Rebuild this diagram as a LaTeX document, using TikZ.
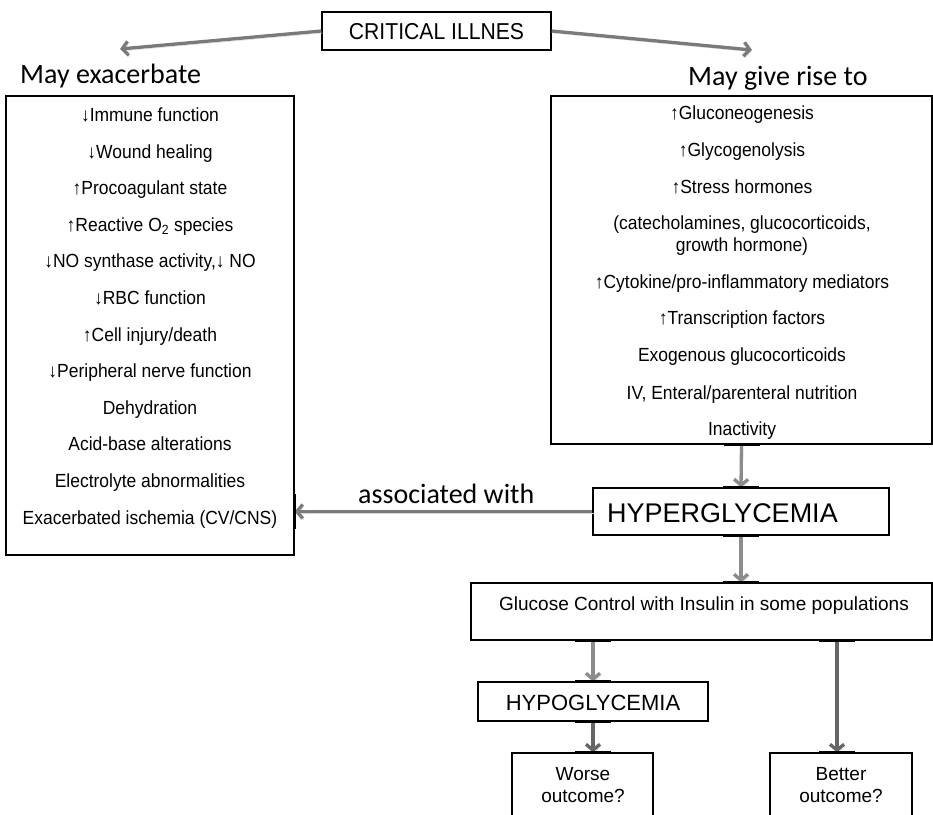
\documentclass[tikz,border=0pt]{standalone}
\usepackage{fontspec}
\setmainfont{Liberation Sans}
\newfontfamily\narrowsans{Liberation Sans}[FakeStretch=0.92]
\newfontfamily\calibri{Carlito}
\usetikzlibrary{arrows.meta}
\definecolor{arrlight}{HTML}{8C8C8C}
\definecolor{arrmid}{HTML}{7A7A7A}
\definecolor{arrdark}{HTML}{666666}
\tikzset{
  boxnode/.style={draw=black, line width=1.2pt, inner sep=0pt, fill=none},
  txt/.style={anchor=base, inner sep=0pt, font=\narrowsans\fontsize{19}{22}\selectfont},
  headtxt/.style={anchor=base west, inner sep=0pt, font=\calibri\fontsize{28}{32}\selectfont},
  arr/.style={line width=3.3pt, -{Straight Barb[length=6pt,width=14pt]},
    preaction={draw=black!17, transform canvas={shift={(1.5pt,-2pt)}}}},
  tickmark/.style={line width=3pt, black},
}
\begin{document}
\begin{tikzpicture}[x=1pt,y=-1pt]
\clip (0,0) rectangle (933,814);
\fill[white] (0,0) rectangle (933,814);

% boxes
\node[boxnode, minimum width=229pt, minimum height=38pt] (crit) at (436.5,31) {};
\node[anchor=base, inner sep=0pt, font=\narrowsans\fontsize{23}{26}\selectfont] (critt) at (436.5,39.5) {CRITICAL ILLNES};
\node[boxnode, minimum width=288pt, minimum height=459pt] (lbox) at (150,325.5) {};
\node[boxnode, minimum width=381pt, minimum height=348pt] (rbox) at (741.5,270) {};
\node[boxnode, minimum width=296pt, minimum height=47pt] (hyper) at (741,511.5) {};
\node[boxnode, minimum width=461pt, minimum height=57pt] (gluc) at (701.5,611.5) {};
\node[boxnode, minimum width=230pt, minimum height=39pt] (hypo) at (593,701.5) {};
\node[boxnode, minimum width=141pt, minimum height=77pt] (worse) at (582.5,791.5) {};
\node[boxnode, minimum width=142pt, minimum height=77pt] (better) at (841,791.5) {};

% headings
\node[headtxt] (hl) at (20,83) {May exacerbate};
\node[headtxt] (hr) at (688,85) {May give rise to};
\node[headtxt] (assoc) at (358,503) {associated with};

% left list
\foreach [count=\i] \t in {%
  {↓Immune function},
  {↓Wound healing},
  {↑Procoagulant state},
  {↑Reactive O\textsubscript{2} species},
  {↓NO synthase activity,↓ NO},
  {↓RBC function},
  {↑Cell injury/death},
  {↓Peripheral nerve function},
  {Dehydration},
  {Acid-base alterations},
  {Electrolyte abnormalities},
  {Exacerbated ischemia (CV/CNS)}}
  \node[txt] (l\i) at (150,{121.5+36.6*(\i-1)}) {\t};

% right list
\node[txt] (r1) at (742,119.5) {↑Gluconeogenesis};
\node[txt] (r2) at (742,156.5) {↑Glycogenolysis};
\node[txt] (r3) at (742,193.5) {↑Stress hormones};
\node[txt] (r4) at (742,229.5) {(catecholamines, glucocorticoids,};
\node[txt] (r5) at (742,251.5) {growth hormone)};
\node[txt] (r6) at (742,288.5) {↑Cytokine/pro-inflammatory mediators};
\node[txt] (r7) at (742,324.5) {↑Transcription factors};
\node[txt] (r8) at (742,361.5) {Exogenous glucocorticoids};
\node[txt] (r9) at (742,399) {IV, Enteral/parenteral nutrition};
\node[txt] (r10) at (742,435.5) {Inactivity};

% other texts
\node[anchor=base west, inner sep=0pt, font=\fontsize{27}{30}\selectfont] (hypert) at (607,522) {HYPERGLYCEMIA};
\node[anchor=base, inner sep=0pt, font=\fontsize{19}{22}\selectfont] (glucot) at (704,610) {Glucose Control with Insulin in some populations};
\node[anchor=base, inner sep=0pt, font=\fontsize{22}{26}\selectfont] (hypot) at (593,710) {HYPOGLYCEMIA};
\node[align=center, inner sep=0pt, font=\fontsize{19}{22}\selectfont] (worset) at (583,785) {Worse\\outcome?};
\node[align=center, inner sep=0pt, font=\fontsize{19}{22}\selectfont] (bettert) at (841,785) {Better\\outcome?};

% connectors
\coordinate (tipl) at (120,49);
\coordinate (tipr) at (752,50);
\draw[arr, draw=arrmid] (crit.west) -- (tipl);
\draw[arr, draw=arrmid] (crit.east) -- (tipr);
\draw[arr, draw=arrlight] (rbox.south) -- (hyper.north);
\draw[arr, draw=arrmid] (hyper.west) -- (hyper.west -| lbox.east);
\draw[arr, draw=arrlight] (hyper.south) -- (hyper.south |- gluc.north);
\draw[arr, draw=arrlight] (hypo.north |- gluc.south) -- (hypo.north);
\draw[arr, draw=arrdark] (hypo.south) -- (hypo.south |- worse.north);
\draw[arr, draw=arrdark] ([xshift=-4pt]better.north |- gluc.south) -- ([xshift=-4pt]better.north);

% connection ticks
\draw[tickmark] ([xshift=-18pt]rbox.south) -- ([xshift=18pt]rbox.south);
\draw[tickmark] ([xshift=-18pt]hyper.north) -- ([xshift=18pt]hyper.north);
\draw[tickmark] ([xshift=-18pt]hyper.south) -- ([xshift=18pt]hyper.south);
\draw[tickmark] ([xshift=-18pt]hyper.south |- gluc.north) -- ([xshift=18pt]hyper.south |- gluc.north);
\draw[tickmark] ([xshift=-18pt]hypo.north |- gluc.south) -- ([xshift=18pt]hypo.north |- gluc.south);
\draw[tickmark] ([xshift=-22pt]better.north |- gluc.south) -- ([xshift=14pt]better.north |- gluc.south);
\draw[tickmark] ([xshift=-18pt]hypo.north) -- ([xshift=18pt]hypo.north);
\draw[tickmark] ([xshift=-18pt]hypo.south) -- ([xshift=18pt]hypo.south);
\draw[tickmark] ([xshift=-18pt]hypo.south |- worse.north) -- ([xshift=18pt]hypo.south |- worse.north);
\draw[tickmark] ([xshift=-22pt]better.north) -- ([xshift=14pt]better.north);
\draw[tickmark] ([yshift=-17pt]hyper.west -| lbox.east) -- ([yshift=18pt]hyper.west -| lbox.east);
\end{tikzpicture}
\end{document}
